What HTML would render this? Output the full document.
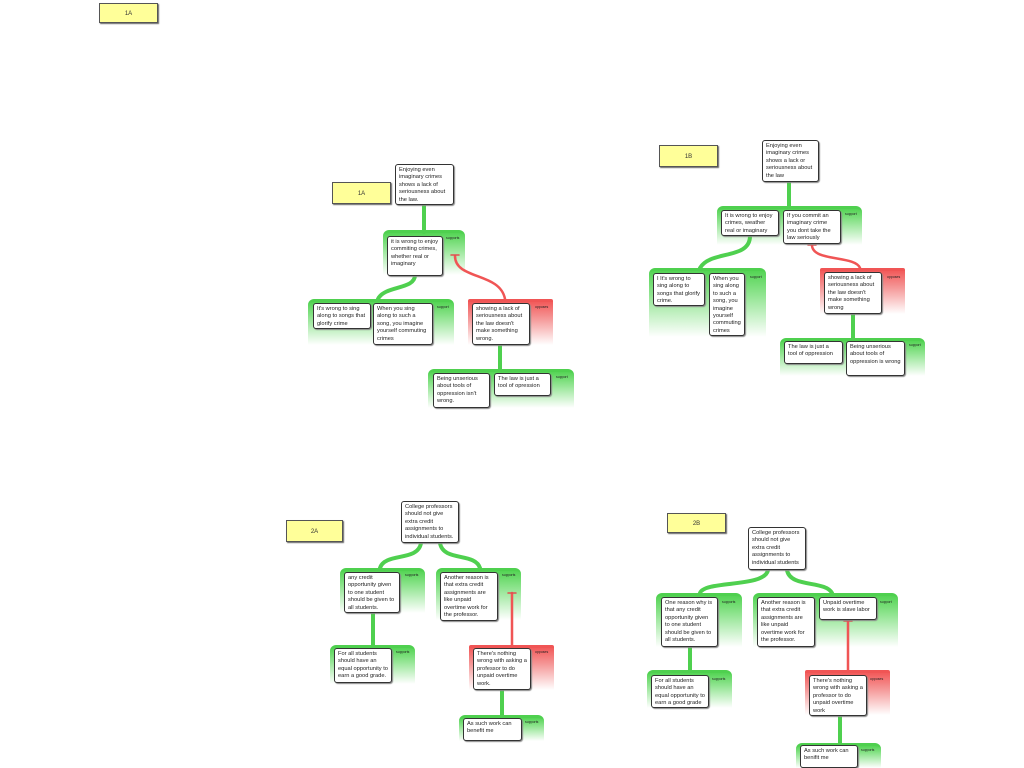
<!DOCTYPE html>
<html><head><meta charset="utf-8"><style>
body{margin:0;width:1024px;height:768px;background:#fff;position:relative;overflow:hidden;font-family:"Liberation Sans",sans-serif}
div{position:absolute;box-sizing:border-box}
.g{background:linear-gradient(to bottom,#55d455 0%,#8fe48f 35%,#ffffff 100%);border-top:3px solid #4fd04f;border-radius:6px 6px 0 0;z-index:0}
.r{background:linear-gradient(to bottom,#f25b5b 0%,#f59a9a 40%,#ffffff 100%);border-top:3px solid #f05555;border-radius:2px 2px 0 0;z-index:0}
.b{background:#fff;border:1.3px solid #333;border-radius:3px;font-size:5.7px;line-height:7.4px;color:#222;padding:2px 3px;box-shadow:1px 1px 1px #888;z-index:2}
.l{font-size:3.5px;color:#222;z-index:2}
.n{background:#ffff99;border:1px solid #555;font-size:6px;text-align:center;color:#333;box-shadow:1px 1px 1px #666;z-index:2}
svg{position:absolute;left:0;top:0;z-index:1}
</style></head><body>
<svg width="1024" height="768" fill="none" stroke-linecap="round">
<g stroke="#4fd04f" stroke-width="4">
<path d="M424 205 C424 222 424 222 424 232"/>
<path d="M415 275 C415 290 385 285 378 299"/>
<path d="M500 345 L500 370"/>
<path d="M789 182 L789 207"/>
<path d="M750 236 C750 260 710 250 700 268"/>
<path d="M853 314 L853 338"/>
<path d="M421 543 C418 562 385 552 380 568"/>
<path d="M440 543 C443 562 475 552 480 568"/>
<path d="M373 613 L373 645"/>
<path d="M502 690 L502 715"/>
<path d="M768 570 C765 588 705 580 700 593"/>
<path d="M787 570 C790 588 825 580 832 593"/>
<path d="M690 647 L690 670"/>
<path d="M840 716 L840 743"/>
</g>
<g stroke="#f05555" stroke-width="2.5">
<path d="M455 256 C455 280 500 272 505 299"/>
<path d="M812 245 C812 262 855 255 860 268"/>
<path d="M512 593 L512 645"/>
<path d="M848 621 L848 670"/>
</g>
<g stroke="#e05050" stroke-width="1.5">
<path d="M451 255 H459"/><path d="M808 245 H816"/><path d="M508 593 H516"/><path d="M844 621 H852"/>
</g>
</svg>

<div class="n" style="left:99px;top:3px;width:59px;height:20px;line-height:20px">1A</div>

<!-- 1A -->
<div class="n" style="left:332px;top:182px;width:59px;height:22px;line-height:22px">1A</div>
<div class="b" style="left:395px;top:164px;width:59px;height:41px">Enjoying even imaginary crimes shows a lack of seriousness about the law.</div>
<div class="g" style="left:383px;top:230px;width:82px;height:45px"></div>
<div class="l" style="left:446px;top:236px">supports</div>
<div class="b" style="left:387px;top:236px;width:56px;height:40px">it is wrong to enjoy commiting crimes, whether real or imaginary</div>
<div class="g" style="left:308px;top:299px;width:146px;height:46px"></div>
<div class="l" style="left:437px;top:305px">support</div>
<div class="b" style="left:313px;top:303px;width:58px;height:26px">It's wrong to sing along to songs that glorify crime</div>
<div class="b" style="left:373px;top:303px;width:60px;height:42px">When you sing along to such a song, you imagine yourself commuting crimes</div>
<div class="r" style="left:468px;top:299px;width:85px;height:46px"></div>
<div class="l" style="left:535px;top:305px">opposes</div>
<div class="b" style="left:472px;top:303px;width:58px;height:42px">showing a lack of seriousness about the law doesn't make something wrong.</div>
<div class="g" style="left:428px;top:369px;width:146px;height:39px"></div>
<div class="l" style="left:556px;top:375px">support</div>
<div class="b" style="left:433px;top:373px;width:57px;height:35px">Being unserious about tools of oppression isn't wrong.</div>
<div class="b" style="left:494px;top:373px;width:57px;height:23px">The law is just a tool of opression</div>

<!-- 1B -->
<div class="n" style="left:659px;top:145px;width:59px;height:22px;line-height:22px">1B</div>
<div class="b" style="left:762px;top:140px;width:57px;height:42px">Enjoying even imaginary crimes shows a lack or seriousness about the law</div>
<div class="g" style="left:717px;top:206px;width:145px;height:39px"></div>
<div class="l" style="left:845px;top:212px">support</div>
<div class="b" style="left:721px;top:210px;width:58px;height:26px">It is wrong to enjoy crimes, weather real or imaginary</div>
<div class="b" style="left:783px;top:210px;width:58px;height:34px">If you commit an imaginary crime you dont take the law seriously</div>
<div class="g" style="left:649px;top:268px;width:117px;height:69px"></div>
<div class="l" style="left:750px;top:275px">support</div>
<div class="b" style="left:653px;top:273px;width:52px;height:33px">I It's wrong to sing along to songs that glorify crime.</div>
<div class="b" style="left:709px;top:273px;width:36px;height:63px">When you sing along to such a song, you imagine yourself commuting crimes</div>
<div class="r" style="left:820px;top:268px;width:85px;height:46px"></div>
<div class="l" style="left:887px;top:275px">opposes</div>
<div class="b" style="left:824px;top:272px;width:58px;height:42px">showing a lack of seriousness about the law doesn't make something wrong</div>
<div class="g" style="left:780px;top:338px;width:145px;height:38px"></div>
<div class="l" style="left:909px;top:343px">support</div>
<div class="b" style="left:784px;top:341px;width:59px;height:23px">The law is just a tool of oppression</div>
<div class="b" style="left:846px;top:341px;width:59px;height:35px">Being unserious about tools of oppression is wrong</div>

<!-- 2A -->
<div class="n" style="left:286px;top:520px;width:57px;height:22px;line-height:22px">2A</div>
<div class="b" style="left:401px;top:501px;width:58px;height:42px">College professors should not give extra credit assignments to individual students.</div>
<div class="g" style="left:340px;top:568px;width:85px;height:45px"></div>
<div class="l" style="left:405px;top:573px">supports</div>
<div class="b" style="left:344px;top:572px;width:56px;height:41px">any credit opportunity given to one student should be given to all students.</div>
<div class="g" style="left:436px;top:568px;width:85px;height:52px"></div>
<div class="l" style="left:502px;top:573px">supports</div>
<div class="b" style="left:440px;top:572px;width:58px;height:49px">Another reason is that extra credit assignments are like unpaid overtime work for the professor.</div>
<div class="g" style="left:330px;top:645px;width:85px;height:39px"></div>
<div class="l" style="left:396px;top:650px">supports</div>
<div class="b" style="left:334px;top:648px;width:58px;height:35px">For all students should have an equal opportunity to earn a good grade.</div>
<div class="r" style="left:469px;top:645px;width:85px;height:45px"></div>
<div class="l" style="left:535px;top:650px">opposes</div>
<div class="b" style="left:473px;top:648px;width:58px;height:42px">There's nothing wrong with asking a professor to do unpaid overtime work.</div>
<div class="g" style="left:459px;top:715px;width:85px;height:26px"></div>
<div class="l" style="left:525px;top:720px">supports</div>
<div class="b" style="left:463px;top:718px;width:59px;height:23px">As such work can benefit me</div>

<!-- 2B -->
<div class="n" style="left:667px;top:513px;width:59px;height:20px;line-height:20px">2B</div>
<div class="b" style="left:748px;top:527px;width:58px;height:43px">College professors should not give extra credit assignments to individual students</div>
<div class="g" style="left:656px;top:593px;width:86px;height:54px"></div>
<div class="l" style="left:722px;top:600px">supports</div>
<div class="b" style="left:661px;top:597px;width:57px;height:50px">One reason why is that any credit opportunity given to one student should be given to all students.</div>
<div class="g" style="left:753px;top:593px;width:145px;height:54px"></div>
<div class="l" style="left:880px;top:600px">support</div>
<div class="b" style="left:757px;top:597px;width:58px;height:50px">Another reason is that extra credit assignments are like unpaid overtime work for the professor.</div>
<div class="b" style="left:819px;top:597px;width:58px;height:23px">Unpaid overtime work is slave labor</div>
<div class="g" style="left:647px;top:670px;width:85px;height:38px"></div>
<div class="l" style="left:712px;top:677px">supports</div>
<div class="b" style="left:651px;top:675px;width:58px;height:33px">For all students should have an equal opportunity to earn a good grade</div>
<div class="r" style="left:805px;top:670px;width:85px;height:45px"></div>
<div class="l" style="left:870px;top:677px">opposes</div>
<div class="b" style="left:809px;top:675px;width:58px;height:41px">There's nothing wrong with asking a professor to do unpaid overtime work</div>
<div class="g" style="left:796px;top:743px;width:85px;height:25px"></div>
<div class="l" style="left:861px;top:748px">supports</div>
<div class="b" style="left:800px;top:745px;width:58px;height:23px">As such work can benifit me</div>
</body></html>
